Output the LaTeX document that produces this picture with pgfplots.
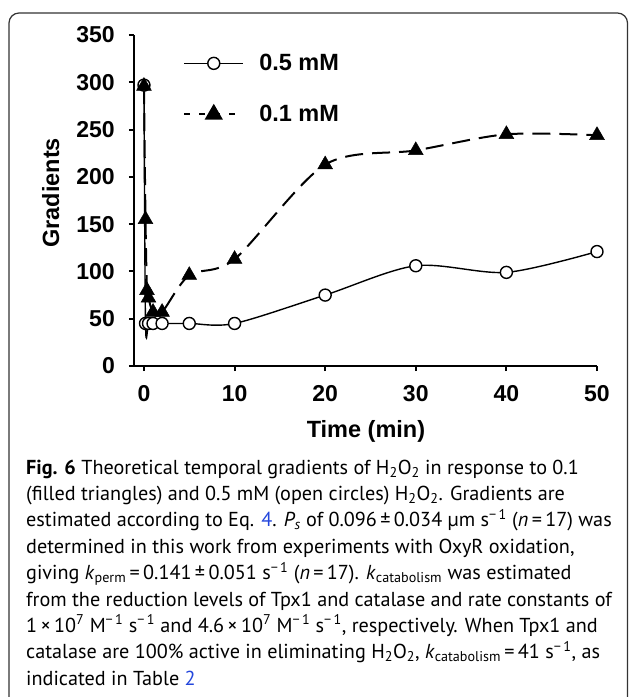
\documentclass[border=0pt]{standalone}
\usepackage{fontspec}
\setmainfont{Liberation Sans}
\newfontfamily\capfont{PT Sans}
\usepackage{pgfplots}
\pgfplotsset{compat=1.18}
\definecolor{linkblue}{RGB}{35,70,220}
\newcommand{\msup}[1]{\textsuperscript{#1}}
\newcommand{\msub}[1]{\textsubscript{#1}}

\begin{document}
\begin{tikzpicture}
\useasboundingbox (0,0) rectangle (629pt,-697pt);
% frame round the figure, open at the bottom
\draw[black!80, line width=1.2pt, rounded corners=10pt]
  (9pt,-697pt) -- (9pt,-13pt) -- (627.5pt,-13pt) -- (627.5pt,-697pt);

\begin{axis}[
  at={(134pt,-366pt)}, anchor=south west,
  scale only axis, width=463pt, height=331pt,
  xmin=-1.1, xmax=50, ymin=0, ymax=350,
  xtick={0,10,...,50}, ytick={0,50,...,350},
  axis x line*=bottom, axis y line*=left,
  axis line style={line width=2.5pt,-},
  tick align=outside, major tick length=5pt,
  tick style={line width=2pt, black},
  /pgf/number format/assume math mode=true,
  every tick label/.append style={font=\bfseries\fontsize{23}{23}\selectfont},
  yticklabel style={inner sep=0pt, anchor=east, xshift=-14pt},
  xticklabel style={inner sep=0pt, anchor=north, yshift=-14pt},
  label style={font=\bfseries\fontsize{23.5}{24}\selectfont},
  xlabel={Time (min)}, ylabel={Gradients},
  xlabel style={at={(axis description cs:0.501,-0.197)}, anchor=center},
  ylabel style={at={(axis description cs:-0.18,0.523)}, anchor=center},
  legend style={at={(axis description cs:0.106,0.942)}, anchor=north west,
    draw=none, fill=none, inner sep=0pt, row sep=33pt,
    font=\bfseries\fontsize{23.5}{24}\selectfont,
    nodes={inner sep=0pt},
    /tikz/every odd column/.append style={column sep=15pt}},
  legend cell align=left,
  legend image code/.code={
    \draw[#1, mark repeat=2, mark phase=2]
      plot coordinates {(0pt,0pt) (29.5pt,0pt) (59pt,0pt)};},
]
\addplot[forget plot, black, line width=1.4pt, smooth,
  mark=*, mark size=6pt, mark options={fill=white, line width=1.4pt}]
  coordinates {(0,297) (0.17,45) (0.5,45) (1,45) (2,45) (5,45) (10,45)
               (20,75) (30,106) (40,99) (50,121)};
\addplot[forget plot, black, line width=2pt, smooth,
  dash pattern=on 18pt off 9pt,
  mark=triangle*, mark size=8.5pt, mark options={solid, line width=0.5pt}]
  coordinates {(0,296) (0.17,155) (0.33,80) (0.5,72) (1,57) (2,57) (5,96)
               (10,113) (20,213) (30,228) (40,245) (50,244)};
\addlegendimage{black, line width=1.4pt, mark=*, mark size=6pt,
  mark options={fill=white, line width=1.4pt}}
\addlegendentry{0.5 mM}
\addlegendimage{black, line width=2pt, dash pattern=on 6pt off 9pt,
  mark=triangle*, mark size=8.5pt, mark options={solid}}
\addlegendentry{0.1 mM}
\end{axis}

% caption
\begin{scope}[every node/.style={anchor=base west, inner sep=0pt,
    font=\capfont\fontsize{20.2}{21}\selectfont}]
\node at (26pt,-474pt) {\textbf{Fig. 6} Theoretical temporal gradients of H\msub{2}O\msub{2} in response to 0.1};
\node at (26pt,-500.4pt) {(filled triangles) and 0.5 mM (open circles) H\msub{2}O\msub{2}. Gradients are};
\node at (26pt,-526.8pt) {estimated according to Eq. \textcolor{linkblue}{4}. \textit{P\msub{s}} of 0.096\,±\,0.034 µm s\msup{−\,1} (\textit{n}\,=\,17) was};
\node at (26pt,-553.2pt) {determined in this work from experiments with OxyR oxidation,};
\node at (26pt,-579.6pt) {giving \textit{k}\msub{perm}\,=\,0.141\,±\,0.051 s\msup{−\,1} (\textit{n}\,=\,17). \textit{k}\msub{catabolism} was estimated};
\node at (26pt,-606pt) {from the reduction levels of Tpx1 and catalase and rate constants of};
\node at (26pt,-632.4pt) {1\,×\,10\msup{7} M\msup{−\,1} s\msup{−\,1} and 4.6\,×\,10\msup{7} M\msup{−\,1} s\msup{−\,1}, respectively. When Tpx1 and};
\node at (26pt,-658.8pt) {catalase are 100\% active in eliminating H\msub{2}O\msub{2}, \textit{k}\msub{catabolism}\,=\,41 s\msup{−\,1}, as};
\node at (26pt,-685.2pt) {indicated in Table \textcolor{linkblue}{2}};
\end{scope}
\end{tikzpicture}
\end{document}
